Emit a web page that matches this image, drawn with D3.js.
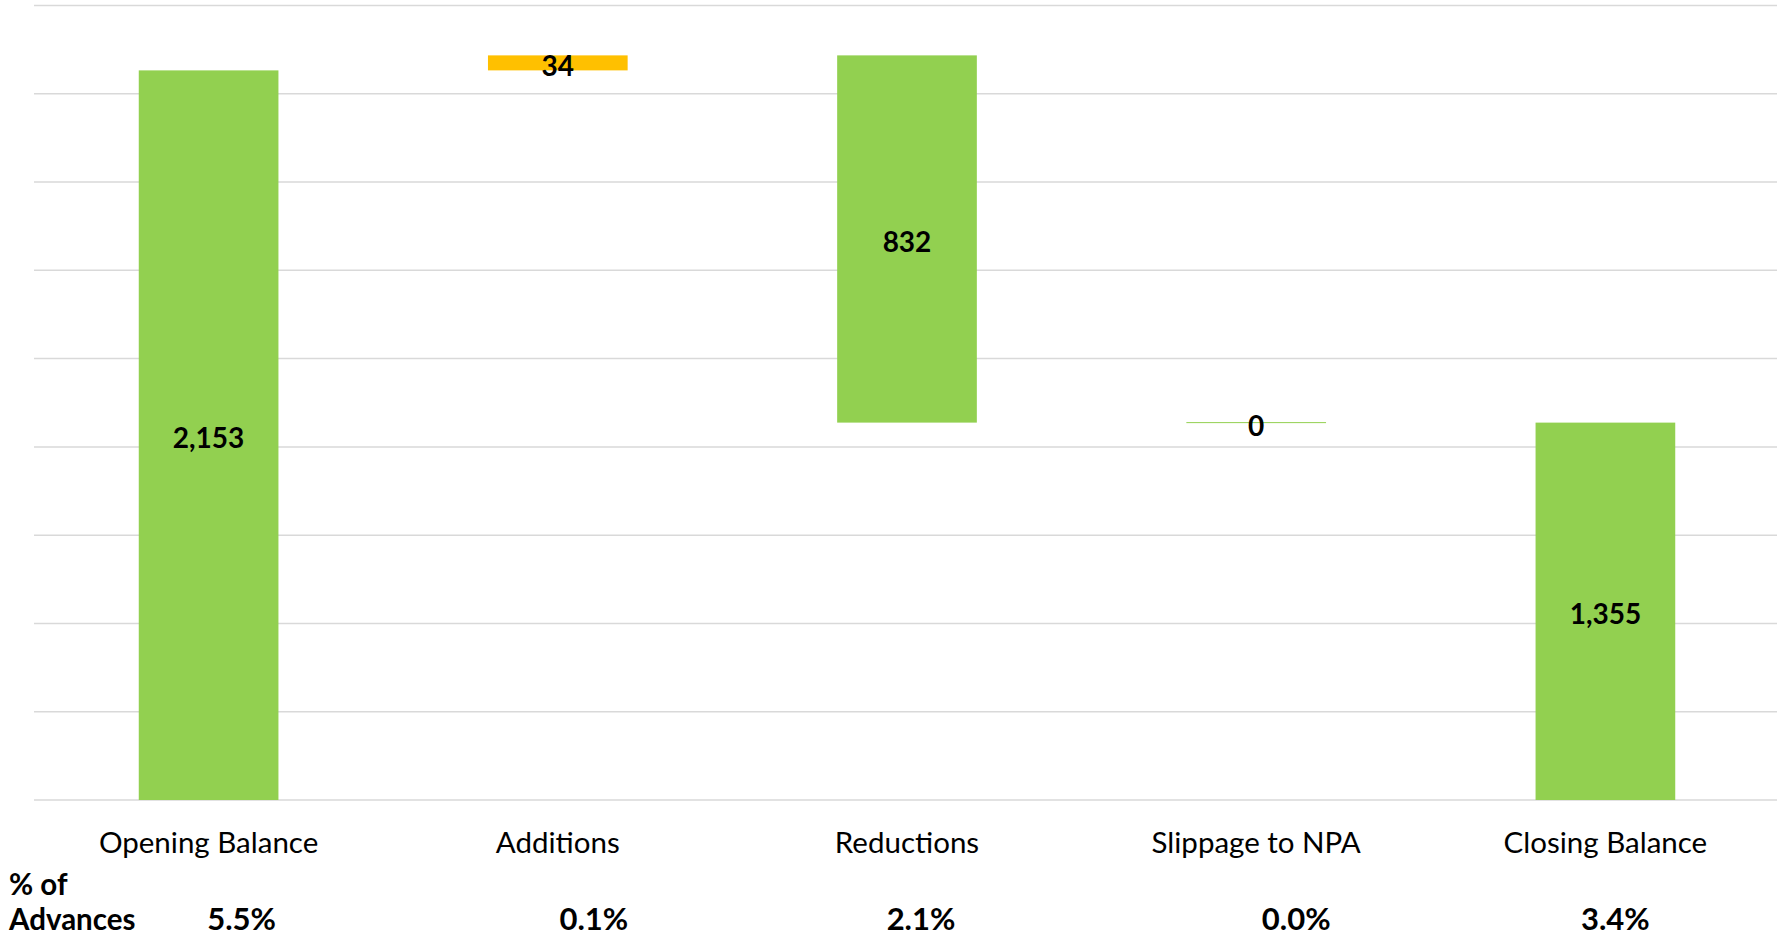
<!DOCTYPE html>
<html><head><meta charset="utf-8">
<script src="https://cdn.jsdelivr.net/npm/d3@7/dist/d3.min.js"></script>
<style>
html,body{margin:0;padding:0;background:#fff;}
svg{display:block;font-family:Lato,"Open Sans",sans-serif;}
</style></head>
<body>
<svg id="chart" width="1777" height="939"></svg>
<script>
// ---- data ----
const categories = ["Opening Balance", "Additions", "Reductions", "Slippage to NPA", "Closing Balance"];
const values = [2153, 34, -832, 0, 1355];
const kinds = ["total", "delta", "delta", "delta", "total"];
const valueLabels = ["2,153", "34", "832", "0", "1,355"];
const pctLabels = ["5.5%", "0.1%", "2.1%", "0.0%", "3.4%"];
const rowTitle = ["% of", "Advances"];
const yTicks = [500, 700, 900, 1100, 1300, 1500, 1700, 1900, 2100, 2300];

// ---- layout ----
const W = 1777, H = 939;
const plot = {left: 34, right: 1780, top: 5.5, bottom: 800};
const pctOffsets = [33, 36, 14, 40, 10];
const green = "#92D050", orange = "#FFC000";

const svg = d3.select("#chart");
const x = d3.scaleBand().domain(categories).range([plot.left, plot.right]).paddingInner(0.6).paddingOuter(0.3);
const y = d3.scaleLinear().domain([500, 2300]).range([plot.bottom, plot.top]);

// waterfall computation
let run = 0;
const bars = categories.map((c, i) => {
  let start, end;
  if (kinds[i] === "total") { start = y.domain()[0]; end = values[i]; run = values[i]; }
  else { start = run; end = run + values[i]; run = end; }
  return {c, i, start, end, lo: Math.min(start, end), hi: Math.max(start, end)};
});

// gridlines
svg.append("g").selectAll("line").data(yTicks).join("line")
  .attr("x1", plot.left).attr("x2", W)
  .attr("y1", d => y(d)).attr("y2", d => y(d))
  .attr("stroke", "#d9d9d9").attr("stroke-width", 1.5);

// bars
svg.append("g").selectAll("rect").data(bars).join("rect")
  .attr("x", d => x(d.c)).attr("width", x.bandwidth())
  .attr("y", d => d.hi === d.lo ? y(d.hi) - 0.5 : y(d.hi))
  .attr("height", d => Math.max(1, y(d.lo) - y(d.hi)))
  .attr("fill", d => kinds[d.i] === "delta" && values[d.i] > 0 ? orange : green);

// value labels
svg.append("g").selectAll("text").data(bars).join("text")
  .attr("x", d => x(d.c) + x.bandwidth() / 2)
  .attr("y", d => (y(d.hi) + y(d.lo)) / 2 + 3)
  .attr("dy", "0.36em")
  .attr("text-anchor", "middle")
  .attr("font-size", 28).attr("font-weight", "bold").attr("fill", "#000")
  .text(d => valueLabels[d.i]);

// category axis labels
svg.append("g").selectAll("text").data(categories).join("text")
  .attr("x", d => x(d) + x.bandwidth() / 2)
  .attr("y", 842).attr("dy", "0.36em")
  .attr("text-anchor", "middle")
  .attr("font-size", 29.5).attr("fill", "#000")
  .text(d => d);

// % of advances row
svg.append("text").attr("x", 9).attr("y", 884).attr("dy", "0.36em")
  .attr("font-size", 29.5).attr("font-weight", "bold").text(rowTitle[0]);
svg.append("text").attr("x", 9).attr("y", 919).attr("dy", "0.36em")
  .attr("font-size", 29.5).attr("font-weight", "bold").text(rowTitle[1]);
svg.append("g").selectAll("text").data(pctLabels).join("text")
  .attr("x", (d, i) => x(categories[i]) + x.bandwidth() / 2 + pctOffsets[i])
  .attr("y", 919).attr("dy", "0.36em")
  .attr("text-anchor", "middle")
  .attr("font-size", 31).attr("font-weight", "bold")
  .text(d => d);
</script>
</body></html>
